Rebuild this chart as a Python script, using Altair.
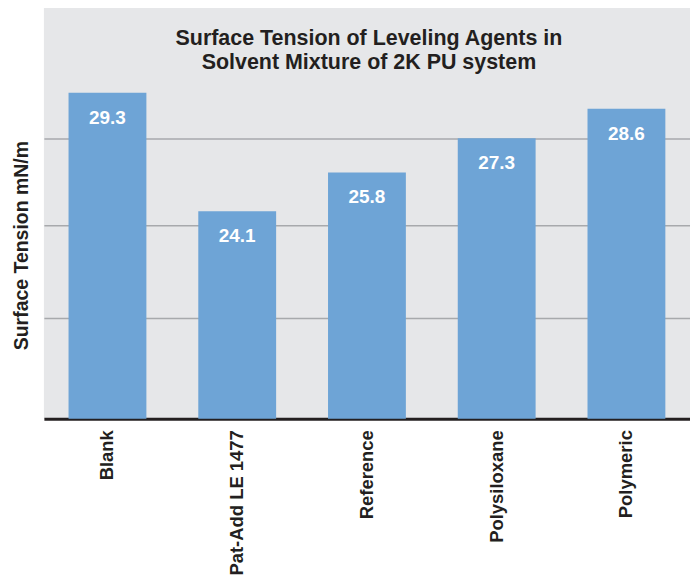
import altair as alt
import pandas as pd

categories = ["Blank", "Pat-Add LE 1477", "Reference", "Polysiloxane", "Polymeric"]
values = [29.3, 24.1, 25.8, 27.3, 28.6]
grid_values = [19.4, 23.5, 27.3]
y_domain = [15, 33.2]
title_lines = ["Surface Tension of Leveling Agents in", "Solvent Mixture of 2K PU system"]
y_title = "Surface Tension mN/m"

FONT = "Liberation Sans"
DARK = "#231f20"

df = pd.DataFrame({"category": categories, "value": values})

x_enc = alt.X(
    "category:N",
    sort=categories,
    scale=alt.Scale(paddingInner=0.4, paddingOuter=0.19),
    axis=alt.Axis(
        title=None,
        labelAngle=-90,
        labelAlign="right",
        labelBaseline="middle",
        labelPadding=11,
        labelFontSize=18.5,
        labelFontWeight="bold",
        labelFont=FONT,
        labelColor=DARK,
        labelLimit=0,
        ticks=False,
        domain=True,
        domainColor=DARK,
        domainWidth=3,
        grid=False,
    ),
)

y_enc = alt.Y(
    "value:Q",
    scale=alt.Scale(domain=y_domain, zero=False, nice=False),
    axis=alt.Axis(
        title=y_title,
        titleFont=FONT,
        titleFontSize=19.5,
        titleFontWeight="bold",
        titleColor=DARK,
        titleAngle=270,
        titleAlign="center",
        titleBaseline="middle",
        titleX=-22,
        titleY=242,
        values=grid_values,
        labels=False,
        ticks=False,
        domain=False,
        grid=True,
        gridColor="#a7a9ac",
        gridWidth=1.5,
    ),
)

bars = alt.Chart(df).mark_bar(color="#6ea4d6").encode(
    x=x_enc,
    y=y_enc,
    y2=alt.datum(y_domain[0]),
)

labels = alt.Chart(df).mark_text(
    color="white",
    font=FONT,
    fontSize=19,
    fontWeight="bold",
    baseline="middle",
    align="center",
    dy=25,
).encode(
    x=alt.X("category:N", sort=categories),
    y=alt.Y("value:Q"),
    text=alt.Text("value:Q", format=".1f"),
)

title = alt.Chart(pd.DataFrame({"k": [0]})).mark_text(
    text=title_lines,
    font=FONT,
    fontSize=21.5,
    fontWeight="bold",
    color=DARK,
    align="center",
    baseline="alphabetic",
    lineHeight=24,
).encode(
    x=alt.value(326),
    y=alt.value(41),
)

chart = alt.layer(bars, labels, title).properties(
    width=648,
    height=416,
    autosize=alt.AutoSizeParams(type="none"),
    padding={"left": 36, "top": -5, "right": 0, "bottom": 170},
    background="white",
).configure_view(
    stroke=None,
    fill="#e6e7e9",
)

chart.save("out.html", embed_options={"renderer": "svg", "actions": False})
